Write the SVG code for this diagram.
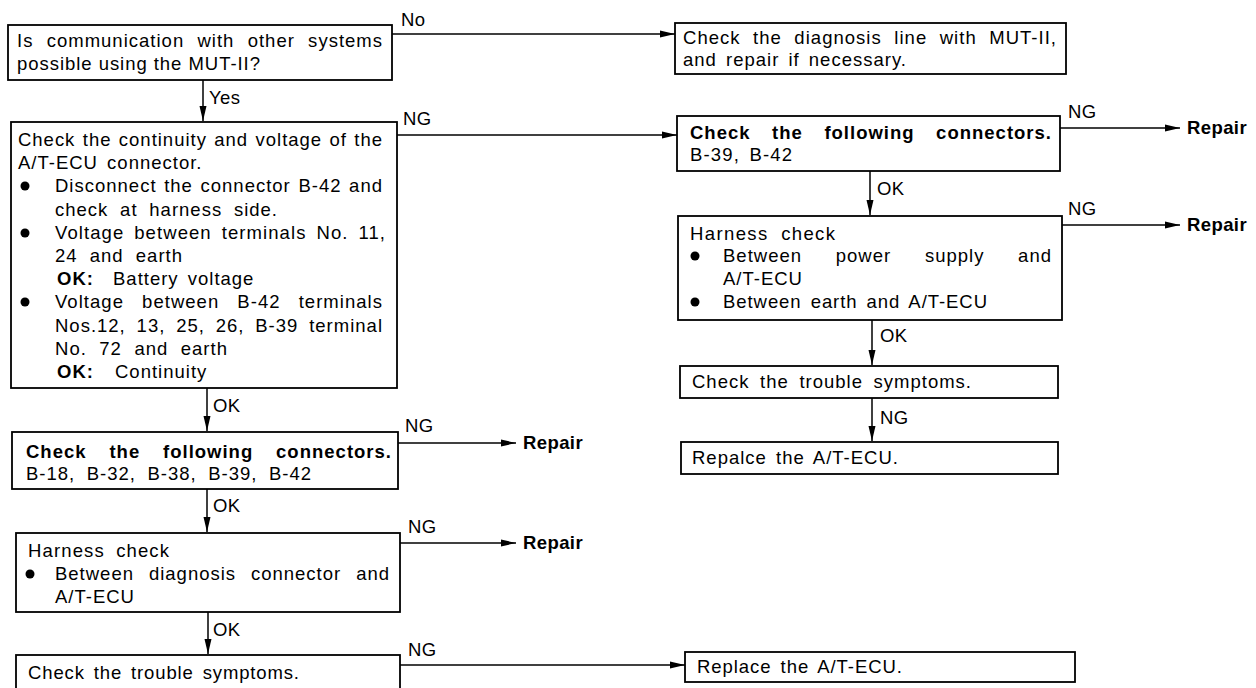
<svg xmlns="http://www.w3.org/2000/svg" width="1256" height="688" viewBox="0 0 1256 688">
<defs>
<marker id="ah" markerUnits="userSpaceOnUse" markerWidth="16" markerHeight="8" refX="15" refY="4" orient="auto"><path d="M0,0.5 L15,4 L0,7.5 z" fill="#000"/></marker>
</defs>
<style>
.box{fill:#fff;stroke:#000;stroke-width:1.8}
.t{font-family:"Liberation Sans",Arial,Helvetica,sans-serif;font-size:18.5px;fill:#000;letter-spacing:1px;word-spacing:3px}
.lb{font-family:"Liberation Sans",Arial,Helvetica,sans-serif;font-size:18.5px;fill:#000;letter-spacing:0.4px}
.b{font-weight:bold}
.c{stroke:#000;stroke-width:1.5;fill:none;marker-end:url(#ah)}
.dot{fill:#000}
</style>
<rect width="1256" height="688" fill="#fff"/>

<g id="connectors">
<line class="c" x1="392" y1="34" x2="675" y2="34"/>
<text class="lb" x="401" y="26">No</text>
<line class="c" x1="203" y1="80" x2="203" y2="121"/>
<text class="lb" x="209" y="104">Yes</text>
<line class="c" x1="397" y1="135" x2="677" y2="135"/>
<text class="lb" x="403" y="125">NG</text>
<line class="c" x1="1060" y1="128" x2="1180" y2="128"/>
<text class="lb" x="1068" y="118">NG</text>
<text class="lb b" x="1187" y="134">Repair</text>
<line class="c" x1="870" y1="171" x2="870" y2="215"/>
<text class="lb" x="877" y="195">OK</text>
<line class="c" x1="1062" y1="225" x2="1180" y2="225"/>
<text class="lb" x="1068" y="215">NG</text>
<text class="lb b" x="1187" y="231">Repair</text>
<line class="c" x1="872" y1="320" x2="872" y2="365"/>
<text class="lb" x="880" y="342">OK</text>
<line class="c" x1="872" y1="398" x2="872" y2="441"/>
<text class="lb" x="880" y="424">NG</text>
<line class="c" x1="207" y1="388" x2="207" y2="431"/>
<text class="lb" x="213" y="412">OK</text>
<line class="c" x1="398" y1="443" x2="516" y2="443"/>
<text class="lb" x="405" y="432">NG</text>
<text class="lb b" x="523" y="449">Repair</text>
<line class="c" x1="207" y1="489" x2="207" y2="532"/>
<text class="lb" x="213" y="512">OK</text>
<line class="c" x1="400" y1="543" x2="516" y2="543"/>
<text class="lb" x="408" y="533">NG</text>
<text class="lb b" x="523" y="549">Repair</text>
<line class="c" x1="208" y1="612" x2="208" y2="654"/>
<text class="lb" x="213" y="636">OK</text>
<line class="c" x1="400" y1="665" x2="685" y2="665"/>
<text class="lb" x="408" y="656">NG</text>
</g>

<g id="n1">
<rect class="box" x="8" y="25" width="384" height="55"/>
<text class="t" x="17" y="47" style="word-spacing:7.1px" textLength="366" lengthAdjust="spacing">Is communication with other systems</text>
<text class="t" x="17" y="70" style="word-spacing:0px" textLength="244" lengthAdjust="spacing">possible using the MUT-II?</text>
</g>

<g id="n2">
<rect class="box" x="675" y="23" width="391" height="51"/>
<text class="t" x="683" y="44" style="word-spacing:6.3px" textLength="374" lengthAdjust="spacing">Check the diagnosis line with MUT-II,</text>
<text class="t" x="683" y="66">and repair if necessary.</text>
</g>

<g id="n3">
<rect class="box" x="11" y="122" width="386" height="266"/>
<text class="t" x="18" y="146" style="word-spacing:1.3px" textLength="365" lengthAdjust="spacing">Check the continuity and voltage of the</text>
<text class="t" x="18" y="169">A/T-ECU connector.</text>
<circle class="dot" cx="25" cy="186" r="4.5"/>
<text class="t" x="55" y="192" style="word-spacing:1.5px" textLength="328" lengthAdjust="spacing">Disconnect the connector B-42 and</text>
<text class="t" x="55" y="216" style="word-spacing:5.6px" textLength="223" lengthAdjust="spacing">check at harness side.</text>
<circle class="dot" cx="25" cy="233" r="4.5"/>
<text class="t" x="55" y="239" style="word-spacing:3.8px" textLength="331" lengthAdjust="spacing">Voltage between terminals No. 11,</text>
<text class="t" x="55" y="262" style="word-spacing:6px" textLength="128" lengthAdjust="spacing">24 and earth</text>
<text class="t" x="57" y="285"><tspan class="b">OK:</tspan><tspan x="113">Battery voltage</tspan></text>
<circle class="dot" cx="25" cy="302" r="4.5"/>
<text class="t" x="55" y="308" style="word-spacing:11.9px" textLength="328" lengthAdjust="spacing">Voltage between B-42 terminals</text>
<text class="t" x="55" y="332" style="word-spacing:4.7px" textLength="328" lengthAdjust="spacing">Nos.12, 13, 25, 26, B-39 terminal</text>
<text class="t" x="55" y="355" style="word-spacing:6.3px" textLength="173" lengthAdjust="spacing">No. 72 and earth</text>
<text class="t" x="57" y="378"><tspan class="b">OK:</tspan><tspan x="115">Continuity</tspan></text>
</g>

<g id="n4">
<rect class="box" x="677" y="116" width="383" height="55"/>
<text class="t b" x="690" y="139" style="word-spacing:15.4px" textLength="362" lengthAdjust="spacing">Check the following connectors.</text>
<text class="t" x="690" y="161" textLength="103" lengthAdjust="spacing">B-39, B-42</text>
</g>

<g id="n5">
<rect class="box" x="678" y="216" width="384" height="104"/>
<text class="t" x="690" y="240" style="word-spacing:6px" textLength="146" lengthAdjust="spacing">Harness check</text>
<circle class="dot" cx="695" cy="256" r="4.5"/>
<text class="t" x="723" y="262" style="word-spacing:27.6px" textLength="329" lengthAdjust="spacing">Between power supply and</text>
<text class="t" x="723" y="285">A/T-ECU</text>
<circle class="dot" cx="695" cy="302" r="4.5"/>
<text class="t" x="723" y="308" textLength="265" lengthAdjust="spacing">Between earth and A/T-ECU</text>
</g>

<g id="n6">
<rect class="box" x="680" y="366" width="378" height="32"/>
<text class="t" x="692" y="388" style="word-spacing:4.5px" textLength="280" lengthAdjust="spacing">Check the trouble symptoms.</text>
</g>

<g id="n7">
<rect class="box" x="681" y="442" width="377" height="32"/>
<text class="t" x="692" y="464">Repalce the A/T-ECU.</text>
</g>

<g id="n8">
<rect class="box" x="12" y="432" width="386" height="57"/>
<text class="t b" x="26" y="458" style="word-spacing:16.7px" textLength="366" lengthAdjust="spacing">Check the following connectors.</text>
<text class="t" x="26" y="480" style="word-spacing:5.5px" textLength="286" lengthAdjust="spacing">B-18, B-32, B-38, B-39, B-42</text>
</g>

<g id="n9">
<rect class="box" x="16" y="533" width="384" height="79"/>
<text class="t" x="28" y="557" style="word-spacing:5px" textLength="142" lengthAdjust="spacing">Harness check</text>
<circle class="dot" cx="30" cy="574" r="4.5"/>
<text class="t" x="55" y="580" style="word-spacing:8.8px" textLength="335" lengthAdjust="spacing">Between diagnosis connector and</text>
<text class="t" x="55" y="603">A/T-ECU</text>
</g>

<g id="n10">
<rect class="box" x="16" y="655" width="384" height="45"/>
<text class="t" x="28" y="679" textLength="272" lengthAdjust="spacing">Check the trouble symptoms.</text>
</g>

<g id="n11">
<rect class="box" x="685" y="652" width="390" height="30"/>
<text class="t" x="697" y="673" textLength="206" lengthAdjust="spacing">Replace the A/T-ECU.</text>
</g>
</svg>
